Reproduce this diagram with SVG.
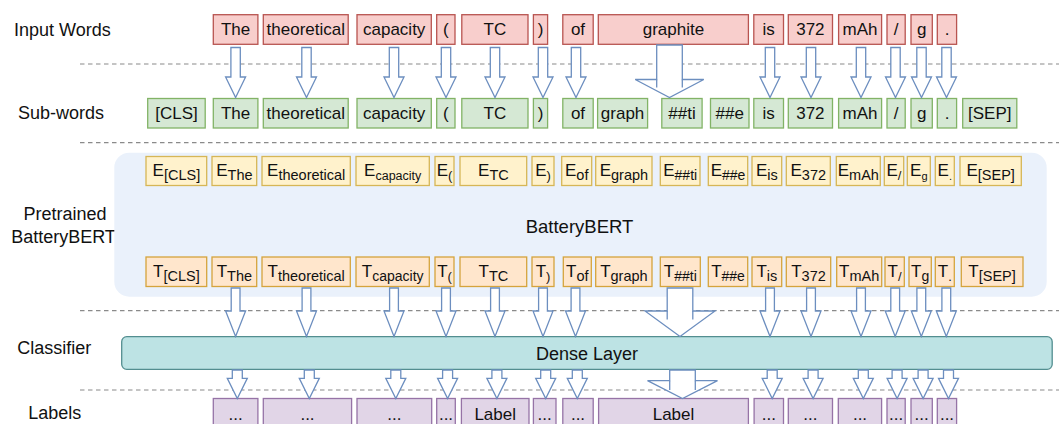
<svg xmlns="http://www.w3.org/2000/svg" width="1059" height="424" viewBox="0 0 1059 424">
<style>
text{font-family:"Liberation Sans",Arial,sans-serif;fill:#111}
.lbl{font-size:18px}
.t{font-size:17px;text-anchor:middle}
.in{fill:#f8cecc;stroke:#b85450;stroke-width:1.3}
.sw{fill:#d5e8d4;stroke:#82b366;stroke-width:1.3}
.e{fill:#fff2cc;stroke:#d6b656;stroke-width:1.3}
.tk{fill:#ffe6cc;stroke:#d5a43c;stroke-width:1.3}
.lb{fill:#e1d5e7;stroke:#9673a6;stroke-width:1.3}
.dash{stroke:#8a8a8a;stroke-width:1.2;stroke-dasharray:4.5 3.5;fill:none}
.arr{fill:#fff;stroke:#6c8ebf;stroke-width:1.3;stroke-linejoin:miter}
.ext{fill:none;stroke:#6c8ebf;stroke-width:1.3}
</style>

<!-- separators -->
<g id="separators">
<line class="dash" x1="80" y1="64" x2="1059" y2="64"/>
<line class="dash" x1="80" y1="142.7" x2="1059" y2="142.7"/>
<line class="dash" x1="80" y1="310.7" x2="1059" y2="310.7"/>
<line class="dash" x1="80" y1="390" x2="1059" y2="390"/>
</g>

<!-- row labels -->
<g id="row-labels">
<text class="lbl" x="14" y="35.7">Input Words</text>
<text class="lbl" x="18" y="119.3">Sub-words</text>
<text class="lbl" x="65" y="220" text-anchor="middle">Pretrained</text>
<text class="lbl" x="63.5" y="243" text-anchor="middle">BatteryBERT</text>
<text class="lbl" x="17.3" y="354">Classifier</text>
<text class="lbl" x="28.3" y="419.3">Labels</text>
</g>

<!-- BatteryBERT container -->
<g id="batterybert">
<rect x="114.3" y="152.7" width="932.4" height="144" rx="15" fill="#eaf1fb"/>
<text x="579.5" y="233.3" style="font-size:18.5px;text-anchor:middle">BatteryBERT</text>
</g>

<!-- Input words -->
<g id="input-words">
<g id="in-the"><rect class="in" x="213.3" y="14.7" width="44.6" height="29.6"/><text class="t" x="235.6" y="35">The</text></g>
<g id="in-theoretical"><rect class="in" x="263.3" y="14.7" width="84.9" height="29.6"/><text class="t" x="305.8" y="35">theoretical</text></g>
<g id="in-capacity"><rect class="in" x="357" y="14.7" width="74.3" height="29.6"/><text class="t" x="394.2" y="35">capacity</text></g>
<g id="in-lparen"><rect class="in" x="436.7" y="14.7" width="18.3" height="29.6"/><text class="t" x="445.9" y="35">(</text></g>
<g id="in-tc"><rect class="in" x="461.8" y="14.7" width="66.2" height="29.6"/><text class="t" x="494.9" y="35">TC</text></g>
<g id="in-rparen"><rect class="in" x="533.4" y="14.7" width="14.2" height="29.6"/><text class="t" x="540.5" y="35">)</text></g>
<g id="in-of"><rect class="in" x="562.8" y="14.7" width="30.4" height="29.6"/><text class="t" x="578" y="35">of</text></g>
<g id="in-graphite"><rect class="in" x="598.3" y="14.7" width="150.1" height="29.6"/><text class="t" x="673.4" y="35">graphite</text></g>
<g id="in-is"><rect class="in" x="753.8" y="14.7" width="29.7" height="29.6"/><text class="t" x="768.7" y="35">is</text></g>
<g id="in-372"><rect class="in" x="788.3" y="14.7" width="44.2" height="29.6"/><text class="t" x="810.4" y="35">372</text></g>
<g id="in-mah"><rect class="in" x="838.6" y="14.7" width="43" height="29.6"/><text class="t" x="860.1" y="35">mAh</text></g>
<g id="in-slash"><rect class="in" x="887" y="14.7" width="18.2" height="29.6"/><text class="t" x="896.1" y="35">/</text></g>
<g id="in-g"><rect class="in" x="911" y="14.7" width="21.3" height="29.6"/><text class="t" x="921.7" y="35">g</text></g>
<g id="in-dot"><rect class="in" x="937.3" y="14.7" width="19.3" height="29.6"/><text class="t" x="947" y="35">.</text></g>
</g>

<!-- Sub-words -->
<g id="sub-words">
<g id="sw-cls"><rect class="sw" x="147.7" y="98.5" width="57.5" height="29.5"/><text class="t" x="176.5" y="119.3">[CLS]</text></g>
<g id="sw-the"><rect class="sw" x="213.3" y="98.5" width="44.6" height="29.5"/><text class="t" x="235.6" y="119.3">The</text></g>
<g id="sw-theoretical"><rect class="sw" x="263.3" y="98.5" width="84.9" height="29.5"/><text class="t" x="305.8" y="119.3">theoretical</text></g>
<g id="sw-capacity"><rect class="sw" x="357" y="98.5" width="74.3" height="29.5"/><text class="t" x="394.2" y="119.3">capacity</text></g>
<g id="sw-lparen"><rect class="sw" x="436.7" y="98.5" width="18.3" height="29.5"/><text class="t" x="445.9" y="119.3">(</text></g>
<g id="sw-tc"><rect class="sw" x="461.8" y="98.5" width="66.2" height="29.5"/><text class="t" x="494.9" y="119.3">TC</text></g>
<g id="sw-rparen"><rect class="sw" x="533.4" y="98.5" width="14.2" height="29.5"/><text class="t" x="540.5" y="119.3">)</text></g>
<g id="sw-of"><rect class="sw" x="562.8" y="98.5" width="30.4" height="29.5"/><text class="t" x="578" y="119.3">of</text></g>
<g id="sw-graph"><rect class="sw" x="597.6" y="98.5" width="50" height="29.5"/><text class="t" x="622.6" y="119.3">graph</text></g>
<g id="sw-ti"><rect class="sw" x="661.8" y="98.5" width="40.3" height="29.5"/><text class="t" x="682" y="119.3">##ti</text></g>
<g id="sw-e"><rect class="sw" x="710.5" y="98.5" width="38.5" height="29.5"/><text class="t" x="729.8" y="119.3">##e</text></g>
<g id="sw-is"><rect class="sw" x="753.8" y="98.5" width="29.7" height="29.5"/><text class="t" x="768.7" y="119.3">is</text></g>
<g id="sw-372"><rect class="sw" x="788.3" y="98.5" width="44.2" height="29.5"/><text class="t" x="810.4" y="119.3">372</text></g>
<g id="sw-mah"><rect class="sw" x="838.6" y="98.5" width="43" height="29.5"/><text class="t" x="860.1" y="119.3">mAh</text></g>
<g id="sw-slash"><rect class="sw" x="887" y="98.5" width="18.2" height="29.5"/><text class="t" x="896.1" y="119.3">/</text></g>
<g id="sw-g"><rect class="sw" x="911" y="98.5" width="21.3" height="29.5"/><text class="t" x="921.7" y="119.3">g</text></g>
<g id="sw-dot"><rect class="sw" x="937.3" y="98.5" width="19.3" height="29.5"/><text class="t" x="947" y="119.3">.</text></g>
<g id="sw-sep"><rect class="sw" x="962.7" y="98.5" width="54.1" height="29.5"/><text class="t" x="989.8" y="119.3">[SEP]</text></g>
</g>

<!-- Embeddings -->
<g id="embeddings">
<g id="e-cls"><rect class="e" x="146" y="156.5" width="60.7" height="29"/><text class="t" x="176.4" y="176">E<tspan dy="4" font-size="14.5">[CLS]</tspan></text></g>
<g id="e-the"><rect class="e" x="212" y="156.5" width="44.7" height="29"/><text class="t" x="234.4" y="176">E<tspan dy="4" font-size="14.5">The</tspan></text></g>
<g id="e-theoretical"><rect class="e" x="262" y="156.5" width="88.3" height="29"/><text class="t" x="306.2" y="176">E<tspan dy="4" font-size="14.5">theoretical</tspan></text></g>
<g id="e-capacity"><rect class="e" x="356" y="156.5" width="73.3" height="29"/><text class="t" x="392.7" y="176">E<tspan dy="4" font-size="12.5">capacity</tspan></text></g>
<g id="e-lparen"><rect class="e" x="435" y="156.5" width="19" height="29"/><text class="t" x="444.5" y="176">E<tspan dy="4" font-size="13">(</tspan></text></g>
<g id="e-tc"><rect class="e" x="460" y="156.5" width="66.7" height="29"/><text class="t" x="493.4" y="176">E<tspan dy="4" font-size="14.5">TC</tspan></text></g>
<g id="e-rparen"><rect class="e" x="532" y="156.5" width="22" height="29"/><text class="t" x="543" y="176">E<tspan dy="4" font-size="13">)</tspan></text></g>
<g id="e-of"><rect class="e" x="561.7" y="156.5" width="30" height="29"/><text class="t" x="576.7" y="176">E<tspan dy="4" font-size="14.5">of</tspan></text></g>
<g id="e-graph"><rect class="e" x="595.7" y="156.5" width="56.3" height="29"/><text class="t" x="623.9" y="176">E<tspan dy="4" font-size="14.5">graph</tspan></text></g>
<g id="e-ti"><rect class="e" x="660.3" y="156.5" width="39.7" height="29"/><text class="t" x="680.2" y="176">E<tspan dy="4" font-size="14">##ti</tspan></text></g>
<g id="e-e"><rect class="e" x="708.3" y="156.5" width="39.4" height="29"/><text class="t" x="728" y="176">E<tspan dy="4" font-size="14">##e</tspan></text></g>
<g id="e-is"><rect class="e" x="752" y="156.5" width="29.7" height="29"/><text class="t" x="766.9" y="176">E<tspan dy="4" font-size="14.5">is</tspan></text></g>
<g id="e-372"><rect class="e" x="786.3" y="156.5" width="44" height="29"/><text class="t" x="808.3" y="176">E<tspan dy="4" font-size="14.5">372</tspan></text></g>
<g id="e-mah"><rect class="e" x="836.3" y="156.5" width="44" height="29"/><text class="t" x="858.3" y="176">E<tspan dy="4" font-size="14.5">mAh</tspan></text></g>
<g id="e-slash"><rect class="e" x="884.3" y="156.5" width="19.4" height="29"/><text class="t" x="894" y="176">E<tspan dy="4" font-size="13">/</tspan></text></g>
<g id="e-g"><rect class="e" x="907.3" y="156.5" width="23" height="29"/><text class="t" x="918.8" y="176">E<tspan dy="4" font-size="11">g</tspan></text></g>
<g id="e-dot"><rect class="e" x="935.3" y="156.5" width="19" height="29"/><text class="t" x="944.8" y="176">E<tspan dy="4" font-size="11">.</tspan></text></g>
<g id="e-sep"><rect class="e" x="960" y="156.5" width="61.3" height="29"/><text class="t" x="990.7" y="176">E<tspan dy="4" font-size="14.5">[SEP]</tspan></text></g>
</g>

<!-- Contextual outputs -->
<g id="outputs">
<g id="t-cls"><rect class="tk" x="146" y="257" width="60.7" height="29.5"/><text class="t" x="176.4" y="277.3">T<tspan dy="3.5" font-size="14.5">[CLS]</tspan></text></g>
<g id="t-the"><rect class="tk" x="212" y="257" width="44.7" height="29.5"/><text class="t" x="234.4" y="277.3">T<tspan dy="3.5" font-size="14.5">The</tspan></text></g>
<g id="t-theoretical"><rect class="tk" x="262" y="257" width="88.3" height="29.5"/><text class="t" x="306.2" y="277.3">T<tspan dy="3.5" font-size="14.5">theoretical</tspan></text></g>
<g id="t-capacity"><rect class="tk" x="356" y="257" width="73.3" height="29.5"/><text class="t" x="392.7" y="277.3">T<tspan dy="3.5" font-size="14">capacity</tspan></text></g>
<g id="t-lparen"><rect class="tk" x="435" y="257" width="19" height="29.5"/><text class="t" x="444.5" y="277.3">T<tspan dy="3.5" font-size="13">(</tspan></text></g>
<g id="t-tc"><rect class="tk" x="460" y="257" width="66.7" height="29.5"/><text class="t" x="493.4" y="277.3">T<tspan dy="3.5" font-size="14.5">TC</tspan></text></g>
<g id="t-rparen"><rect class="tk" x="532" y="257" width="22" height="29.5"/><text class="t" x="543" y="277.3">T<tspan dy="3.5" font-size="13">)</tspan></text></g>
<g id="t-of"><rect class="tk" x="563.3" y="257" width="28" height="29.5"/><text class="t" x="577.3" y="277.3">T<tspan dy="3.5" font-size="14.5">of</tspan></text></g>
<g id="t-graph"><rect class="tk" x="595.7" y="257" width="56.3" height="29.5"/><text class="t" x="623.9" y="277.3">T<tspan dy="3.5" font-size="14.5">graph</tspan></text></g>
<g id="t-ti"><rect class="tk" x="660.3" y="257" width="40" height="29.5"/><text class="t" x="680.3" y="277.3">T<tspan dy="3.5" font-size="14">##ti</tspan></text></g>
<g id="t-e"><rect class="tk" x="708.3" y="257" width="39.4" height="29.5"/><text class="t" x="728" y="277.3">T<tspan dy="3.5" font-size="14">##e</tspan></text></g>
<g id="t-is"><rect class="tk" x="752" y="257" width="29.7" height="29.5"/><text class="t" x="766.9" y="277.3">T<tspan dy="3.5" font-size="14.5">is</tspan></text></g>
<g id="t-372"><rect class="tk" x="786.3" y="257" width="44.4" height="29.5"/><text class="t" x="808.5" y="277.3">T<tspan dy="3.5" font-size="14.5">372</tspan></text></g>
<g id="t-mah"><rect class="tk" x="836.7" y="257" width="45" height="29.5"/><text class="t" x="859.2" y="277.3">T<tspan dy="3.5" font-size="14.5">mAh</tspan></text></g>
<g id="t-slash"><rect class="tk" x="885" y="257" width="19.3" height="29.5"/><text class="t" x="894.6" y="277.3">T<tspan dy="3.5" font-size="13">/</tspan></text></g>
<g id="t-g"><rect class="tk" x="909" y="257" width="22.3" height="29.5"/><text class="t" x="920.1" y="277.3">T<tspan dy="3.5" font-size="14">g</tspan></text></g>
<g id="t-dot"><rect class="tk" x="935.3" y="257" width="19" height="29.5"/><text class="t" x="944.8" y="277.3">T<tspan dy="3.5" font-size="13">.</tspan></text></g>
<g id="t-sep"><rect class="tk" x="961.3" y="257" width="61.7" height="29.5"/><text class="t" x="992.1" y="277.3">T<tspan dy="3.5" font-size="14.5">[SEP]</tspan></text></g>
</g>

<!-- Dense layer -->
<g id="dense-layer">
<rect x="121.7" y="336.7" width="930.5" height="32.6" rx="5" fill="#bde3e4" stroke="#538e90" stroke-width="1.3"/>
<text x="587" y="360" style="font-size:18px;text-anchor:middle">Dense Layer</text>
</g>

<!-- Labels -->
<g id="labels">
<g id="lb-1"><rect class="lb" x="213.3" y="398.5" width="44.6" height="30"/><text class="t" x="235.6" y="419.5">...</text></g>
<g id="lb-2"><rect class="lb" x="263.3" y="398.5" width="88.3" height="30"/><text class="t" x="307.5" y="419.5">...</text></g>
<g id="lb-3"><rect class="lb" x="357" y="398.5" width="74.7" height="30"/><text class="t" x="394.4" y="419.5">...</text></g>
<g id="lb-4"><rect class="lb" x="436.7" y="398.5" width="18.6" height="30"/><text class="t" x="446" y="419.5">...</text></g>
<g id="lb-5"><rect class="lb" x="461.4" y="398.5" width="67.6" height="30"/><text class="t" x="495.2" y="419.5">Label</text></g>
<g id="lb-6"><rect class="lb" x="533.4" y="398.5" width="22.6" height="30"/><text class="t" x="544.7" y="419.5">...</text></g>
<g id="lb-7"><rect class="lb" x="562.8" y="398.5" width="30.4" height="30"/><text class="t" x="578" y="419.5">...</text></g>
<g id="lb-8"><rect class="lb" x="598.6" y="398.5" width="149.8" height="30"/><text class="t" x="673.5" y="419.5">Label</text></g>
<g id="lb-9"><rect class="lb" x="754.1" y="398.5" width="29.4" height="30"/><text class="t" x="768.8" y="419.5">...</text></g>
<g id="lb-10"><rect class="lb" x="788.3" y="398.5" width="44.2" height="30"/><text class="t" x="810.4" y="419.5">...</text></g>
<g id="lb-11"><rect class="lb" x="838.3" y="398.5" width="43.3" height="30"/><text class="t" x="860" y="419.5">...</text></g>
<g id="lb-12"><rect class="lb" x="887" y="398.5" width="18.2" height="30"/><text class="t" x="896.1" y="419.5">...</text></g>
<g id="lb-13"><rect class="lb" x="911" y="398.5" width="21.3" height="30"/><text class="t" x="921.7" y="419.5">...</text></g>
<g id="lb-14"><rect class="lb" x="937.3" y="398.5" width="19.3" height="30"/><text class="t" x="947" y="419.5">...</text></g>
</g>

<!-- Connectors (block arrows) -->
<g id="connectors">
<!-- input -> sub-words -->
<g id="arrows-tokenize">
<polygon class="arr" points="230.9,47.5 240.3,47.5 240.3,77 245.6,77 235.6,97.5 225.6,77 230.9,77"/>
<polygon class="arr" points="301.8,47.5 311.2,47.5 311.2,77 316.5,77 306.5,97.5 296.5,77 301.8,77"/>
<polygon class="arr" points="389.3,47.5 398.7,47.5 398.7,77 404,77 394,97.5 384,77 389.3,77"/>
<polygon class="arr" points="441.3,47.5 450.7,47.5 450.7,77 456,77 446,97.5 436,77 441.3,77"/>
<polygon class="arr" points="490.3,47.5 499.7,47.5 499.7,77 505,77 495,97.5 485,77 490.3,77"/>
<polygon class="arr" points="538.3,47.5 547.7,47.5 547.7,77 553,77 543,97.5 533,77 538.3,77"/>
<polygon class="arr" points="571.3,47.5 580.7,47.5 580.7,77 586,77 576,97.5 566,77 571.3,77"/>
<polygon class="arr" points="656.7,45 682.3,45 682.3,79.5 703.8,79.5 669.5,97.5 635.2,79.5 656.7,79.5"/>
<path class="ext" d="M656.7,79.5V87.5M682.3,79.5V87.5"/>
<polygon class="arr" points="765.3,47.5 774.7,47.5 774.7,77 780,77 770,97.5 760,77 765.3,77"/>
<polygon class="arr" points="806.3,47.5 815.7,47.5 815.7,77 821,77 811,97.5 801,77 806.3,77"/>
<polygon class="arr" points="856.3,47.5 865.7,47.5 865.7,77 871,77 861,97.5 851,77 856.3,77"/>
<polygon class="arr" points="890.8,47.5 900.2,47.5 900.2,77 905.5,77 895.5,97.5 885.5,77 890.8,77"/>
<polygon class="arr" points="916.8,47.5 926.2,47.5 926.2,77 931.5,77 921.5,97.5 911.5,77 916.8,77"/>
<polygon class="arr" points="941.8,47.5 951.2,47.5 951.2,77 956.5,77 946.5,97.5 936.5,77 941.8,77"/>
</g>
<!-- T -> dense -->
<g id="arrows-classify">
<polygon class="arr" points="231.2,288 240,288 240,311 245.6,311 235.6,336.5 225.6,311 231.2,311"/>
<polygon class="arr" points="302.1,288 310.9,288 310.9,311 316.5,311 306.5,336.5 296.5,311 302.1,311"/>
<polygon class="arr" points="389.6,288 398.4,288 398.4,311 404,311 394,336.5 384,311 389.6,311"/>
<polygon class="arr" points="441.6,288 450.4,288 450.4,311 456,311 446,336.5 436,311 441.6,311"/>
<polygon class="arr" points="490.6,288 499.4,288 499.4,311 505,311 495,336.5 485,311 490.6,311"/>
<polygon class="arr" points="538.6,288 547.4,288 547.4,311 553,311 543,336.5 533,311 538.6,311"/>
<polygon class="arr" points="571.1,288 579.9,288 579.9,311 585.5,311 575.5,336.5 565.5,311 571.1,311"/>
<polygon class="arr" points="667.2,288 692.8,288 692.8,311 715,311 680,336.5 645,311 667.2,311"/>
<path class="ext" d="M667.2,311V319.5M692.8,311V319.5"/>
<polygon class="arr" points="765.6,288 774.4,288 774.4,311 780,311 770,336.5 760,311 765.6,311"/>
<polygon class="arr" points="806.6,288 815.4,288 815.4,311 821,311 811,336.5 801,311 806.6,311"/>
<polygon class="arr" points="856.6,288 865.4,288 865.4,311 871,311 861,336.5 851,311 856.6,311"/>
<polygon class="arr" points="890.8,288 899.6,288 899.6,311 905.2,311 895.2,336.5 885.2,311 890.8,311"/>
<polygon class="arr" points="916.9,288 925.7,288 925.7,311 931.3,311 921.3,336.5 911.3,311 916.9,311"/>
<polygon class="arr" points="941.9,288 950.7,288 950.7,311 956.3,311 946.3,336.5 936.3,311 941.9,311"/>
</g>
<!-- dense -> labels -->
<g id="arrows-label">
<polygon class="arr" points="232.3,370 242.3,370 242.3,378.3 247.3,378.3 237.3,398.5 227.3,378.3 232.3,378.3"/>
<polygon class="arr" points="304.3,370 314.3,370 314.3,378.3 319.3,378.3 309.3,398.5 299.3,378.3 304.3,378.3"/>
<polygon class="arr" points="390.8,370 400.8,370 400.8,378.3 405.8,378.3 395.8,398.5 385.8,378.3 390.8,378.3"/>
<polygon class="arr" points="442.6,370 452.6,370 452.6,378.3 457.6,378.3 447.6,398.5 437.6,378.3 442.6,378.3"/>
<polygon class="arr" points="491.9,370 501.9,370 501.9,378.3 506.9,378.3 496.9,398.5 486.9,378.3 491.9,378.3"/>
<polygon class="arr" points="540.7,370 550.7,370 550.7,378.3 555.7,378.3 545.7,398.5 535.7,378.3 540.7,378.3"/>
<polygon class="arr" points="572.3,370 582.3,370 582.3,378.3 587.3,378.3 577.3,398.5 567.3,378.3 572.3,378.3"/>
<polygon class="arr" points="669.7,370 695.3,370 695.3,380.7 717.5,380.7 682.5,398.5 647.5,380.7 669.7,380.7"/>
<path class="ext" d="M669.7,380.7V390M695.3,380.7V390"/>
<polygon class="arr" points="767.2,370 777.2,370 777.2,378.3 782.2,378.3 772.2,398.5 762.2,378.3 767.2,378.3"/>
<polygon class="arr" points="808.1,370 818.1,370 818.1,378.3 823.1,378.3 813.1,398.5 803.1,378.3 808.1,378.3"/>
<polygon class="arr" points="858.3,370 868.3,370 868.3,378.3 873.3,378.3 863.3,398.5 853.3,378.3 858.3,378.3"/>
<polygon class="arr" points="892.1,370 902.1,370 902.1,378.3 907.1,378.3 897.1,398.5 887.1,378.3 892.1,378.3"/>
<polygon class="arr" points="918.1,370 928.1,370 928.1,378.3 933.1,378.3 923.1,398.5 913.1,378.3 918.1,378.3"/>
<polygon class="arr" points="943.5,370 953.5,370 953.5,378.3 958.5,378.3 948.5,398.5 938.5,378.3 943.5,378.3"/>
</g>
</g>
</svg>
